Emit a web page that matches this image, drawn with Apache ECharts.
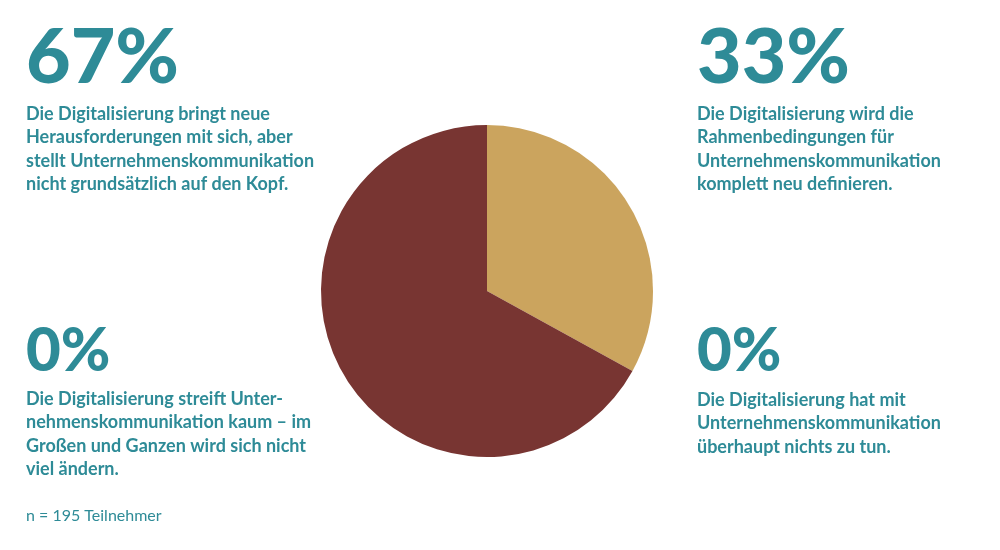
<!DOCTYPE html>
<html>
<head>
<meta charset="utf-8">
<script src="https://cdn.jsdelivr.net/npm/echarts@6/dist/echarts.min.js"></script>
<style>html,body{margin:0;padding:0;background:#fff}#c{width:1000px;height:550px}</style>
</head>
<body>
<div id="c"></div>
<script>
// Answer categories (pie order: clockwise from top)
const categories = [
  'Die Digitalisierung wird die\nRahmenbedingungen für\nUnternehmenskommunikation\nkomplett neu definieren.',
  'Die Digitalisierung bringt neue\nHerausforderungen mit sich, aber\nstellt Unternehmenskommunikation\nnicht grundsätzlich auf den Kopf.',
  'Die Digitalisierung streift Unter-\nnehmenskommunikation kaum – im\nGroßen und Ganzen wird sich nicht\nviel ändern.',
  'Die Digitalisierung hat mit\nUnternehmenskommunikation\nüberhaupt nichts zu tun.'
];
const values = [33, 67, 0, 0];
const sliceColors = ['#cba45e', '#783532', '#2e8b97', '#2e8b97'];
const footnote = 'n = 195 Teilnehmer';

const TEAL = '#2e8b97';
const FONT = 'Lato, "Open Sans", sans-serif';
// text block layout: [index into categories, x, pctTop, pctSize, bodyTop]
const blocks = [
  {i: 1, x: 26,  pctTop: 20,  pctSize: 77, bodyTop: 102},
  {i: 0, x: 697, pctTop: 20,  pctSize: 77, bodyTop: 102},
  {i: 2, x: 26,  pctTop: 322, pctSize: 60, bodyTop: 387},
  {i: 3, x: 697, pctTop: 322, pctSize: 60, bodyTop: 388}
];

const graphics = [];
blocks.forEach(b => {
  graphics.push({
    type: 'text', left: b.x, top: b.pctTop,
    style: {text: values[b.i] + '%', fill: TEAL, font: '900 ' + b.pctSize + 'px ' + FONT, lineHeight: b.pctSize}
  });
  graphics.push({
    type: 'text', left: b.x, top: b.bodyTop,
    style: {text: categories[b.i], fill: TEAL, font: 'bold 18px ' + FONT, lineHeight: 23.5}
  });
});
graphics.push({
  type: 'text', left: 26, top: 508,
  style: {text: footnote, fill: TEAL, font: '16px ' + FONT, lineHeight: 16}
});

const chart = echarts.init(document.getElementById('c'), null, {renderer: 'canvas'});
chart.setOption({
  backgroundColor: '#fff',
  animation: false,
  graphic: graphics,
  series: [{
    type: 'pie',
    center: [487, 291],
    radius: 166,
    startAngle: 90,
    clockwise: true,
    label: {show: false},
    labelLine: {show: false},
    silent: true,
    data: values.map((v, k) => ({value: v, name: categories[k], itemStyle: {color: sliceColors[k]}}))
      .filter(d => d.value > 0)
  }]
});
</script>
</body>
</html>
